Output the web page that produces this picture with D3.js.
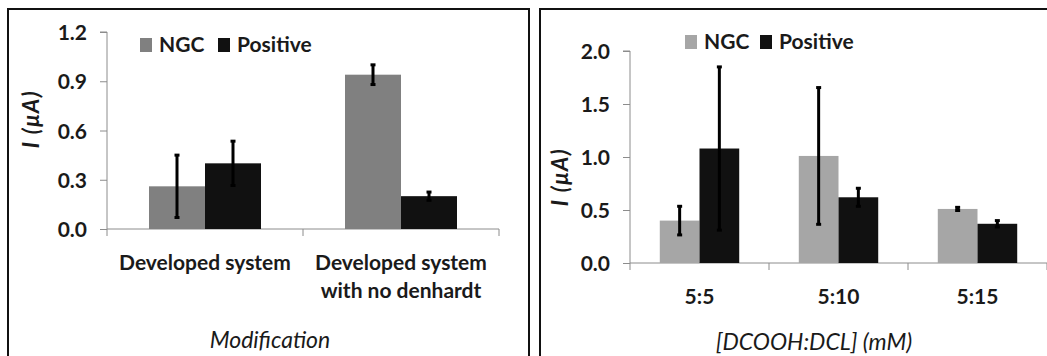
<!DOCTYPE html>
<html>
<head>
<meta charset="utf-8">
<script src="https://cdn.jsdelivr.net/npm/d3@7"></script>
<style>
  body { margin: 0; background: #fff; }
  text { font-family: Lato, "Open Sans", sans-serif; fill: #1a1a1a; }
</style>
</head>
<body>
<script>
// left chart
var leftCategories = [["Developed system"], ["Developed system", "with no denhardt"]];
var leftNGC = [0.26, 0.94];
var leftNGCErr = [0.19, 0.06];
var leftPositive = [0.40, 0.20];
var leftPositiveErr = [0.135, 0.025];
var leftTicks = [0.0, 0.3, 0.6, 0.9, 1.2];

// right chart
var rightCategories = [["5:5"], ["5:10"], ["5:15"]];
var rightNGC = [0.40, 1.01, 0.51];
var rightNGCErr = [0.135, 0.645, 0.015];
var rightPositive = [1.08, 0.62, 0.37];
var rightPositiveErr = [0.77, 0.085, 0.03];
var rightTicks = [0.0, 0.5, 1.0, 1.5, 2.0];

var seriesNames = ["NGC", "Positive"];

var svg = d3.select("body").append("svg")
    .attr("width", 1047).attr("height", 356);

function drawPanel(o) {
    // frame
    svg.append("rect")
        .attr("x", o.frame[0]).attr("y", o.frame[1])
        .attr("width", o.frame[2]).attr("height", o.frame[3])
        .attr("fill", "none").attr("stroke", "#111").attr("stroke-width", 2);

    var g = svg.append("g");
    var x = d3.scaleBand().domain(d3.range(o.categories.length))
        .range([o.x0, o.x1]).paddingInner(0).paddingOuter(0);
    var xs = d3.scaleBand().domain(seriesNames)
        .range([0, x.bandwidth()]).paddingInner(0).paddingOuter(0.75);
    var y = d3.scaleLinear().domain([0, o.ticks[o.ticks.length - 1]])
        .range([o.y0, o.yTop]);

    // y axis
    var yAxis = g.append("g").attr("transform", "translate(" + o.x0 + ",0)")
        .call(d3.axisLeft(y).tickValues(o.ticks).tickSize(7).tickPadding(13)
            .tickFormat(d3.format(".1f")));
    yAxis.select(".domain").attr("stroke", "#8c8c8c").attr("d", "M-7," + y(o.ticks[o.ticks.length - 1]) + "H0V" + o.y0);
    yAxis.selectAll(".tick line").attr("stroke", "#8c8c8c");
    yAxis.selectAll(".tick text").attr("font-size", 21).attr("font-weight", 700)
        .attr("font-family", "Lato").attr("fill", "#1a1a1a").attr("dy", "0.36em");

    // x axis line and category ticks
    g.append("line").attr("x1", o.x0).attr("x2", o.x1).attr("y1", o.y0).attr("y2", o.y0)
        .attr("stroke", "#8c8c8c");
    g.selectAll(".xt").data(d3.range(o.categories.length + 1)).enter().append("line")
        .attr("x1", function(d){ return o.x0 + d * x.step(); })
        .attr("x2", function(d){ return o.x0 + d * x.step(); })
        .attr("y1", o.y0).attr("y2", o.y0 + 7)
        .attr("stroke", "#8c8c8c");

    // bars
    var series = [
        {name: "NGC", values: o.ngc, err: o.ngcErr, color: o.ngcColor},
        {name: "Positive", values: o.pos, err: o.posErr, color: "#111"}
    ];
    series.forEach(function(s) {
        g.selectAll(".bar-" + s.name).data(s.values).enter().append("rect")
            .attr("x", function(d, i){ return x(i) + xs(s.name); })
            .attr("y", function(d){ return y(d); })
            .attr("width", xs.bandwidth())
            .attr("height", function(d){ return o.y0 - y(d); })
            .attr("fill", s.color);
    });
    series.forEach(function(s) {
        var eb = g.selectAll(".err-" + s.name).data(s.values).enter().append("g")
            .attr("transform", function(d, i){ return "translate(" + (x(i) + xs(s.name) + xs.bandwidth() / 2) + ",0)"; });
        eb.append("line").attr("x1", 0).attr("x2", 0)
            .attr("y1", function(d, i){ return y(d + s.err[i]); })
            .attr("y2", function(d, i){ return y(d - s.err[i]); })
            .attr("stroke", "#000").attr("stroke-width", 3);
        eb.append("line").attr("x1", -2.5).attr("x2", 2.5)
            .attr("y1", function(d, i){ return y(d + s.err[i]); })
            .attr("y2", function(d, i){ return y(d + s.err[i]); })
            .attr("stroke", "#000").attr("stroke-width", 3);
        eb.append("line").attr("x1", -2.5).attr("x2", 2.5)
            .attr("y1", function(d, i){ return y(d - s.err[i]); })
            .attr("y2", function(d, i){ return y(d - s.err[i]); })
            .attr("stroke", "#000").attr("stroke-width", 3);
    });

    // category labels
    o.categories.forEach(function(lines, i) {
        var t = g.append("text").attr("text-anchor", "middle")
            .attr("x", x(i) + x.bandwidth() / 2).attr("y", o.catY)
            .attr("font-size", 21).attr("font-weight", 700);
        lines.forEach(function(l, j) {
            t.append("tspan").attr("x", x(i) + x.bandwidth() / 2)
                .attr("dy", j === 0 ? 0 : 28).text(l);
        });
    });

    // legend
    var lg = g.append("g").attr("transform", "translate(" + o.legend[0] + "," + o.legend[1] + ")");
    lg.append("rect").attr("x", 0).attr("y", -14).attr("width", 12).attr("height", 14).attr("fill", o.ngcColor);
    lg.append("text").attr("x", 19).attr("y", 0).attr("font-size", 21).attr("font-weight", 700).text("NGC");
    lg.append("rect").attr("x", o.legendGap).attr("y", -14).attr("width", 12).attr("height", 14).attr("fill", "#111");
    lg.append("text").attr("x", o.legendGap + 19).attr("y", 0).attr("font-size", 21).attr("font-weight", 700).text("Positive");

    // axis titles
    g.append("text").attr("text-anchor", "middle")
        .attr("transform", "translate(" + o.yLabel[0] + "," + o.yLabel[1] + ") rotate(-90)")
        .attr("font-size", 22).attr("font-weight", 700).attr("font-style", "italic")
        .attr("letter-spacing", 1.5)
        .text("I (\u03BCA)");
    g.append("text").attr("text-anchor", "middle")
        .attr("x", o.xLabel[0]).attr("y", o.xLabel[1])
        .attr("font-size", 23).attr("font-weight", 400).attr("font-style", "italic")
        .text(o.xTitle);
}

drawPanel({
    frame: [8, 9, 521, 360],
    x0: 107, x1: 499, y0: 229, yTop: 32,
    categories: leftCategories, ticks: leftTicks,
    ngc: leftNGC, ngcErr: leftNGCErr, pos: leftPositive, posErr: leftPositiveErr,
    ngcColor: "#808080",
    catY: 270, legend: [140, 52], legendGap: 78,
    yLabel: [39, 119], xLabel: [270, 348], xTitle: "Modification"
});

drawPanel({
    frame: [540, 9, 520, 360],
    x0: 630, x1: 1047, y0: 263, yTop: 51,
    categories: rightCategories, ticks: rightTicks,
    ngc: rightNGC, ngcErr: rightNGCErr, pos: rightPositive, posErr: rightPositiveErr,
    ngcColor: "#a6a6a6",
    catY: 304, legend: [685, 49], legendGap: 75,
    yLabel: [568, 177], xLabel: [814, 350], xTitle: "[DCOOH:DCL] (mM)"
});
</script>
</body>
</html>
